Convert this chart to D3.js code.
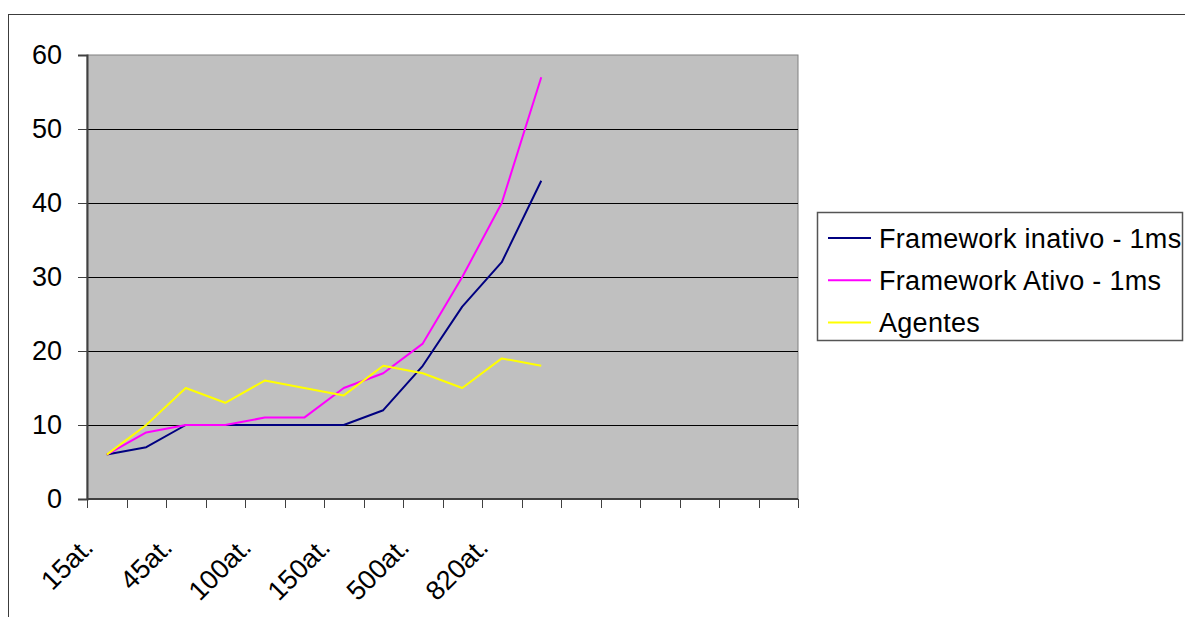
<!DOCTYPE html>
<html>
<head>
<meta charset="utf-8">
<script src="https://cdn.jsdelivr.net/npm/d3@7"></script>
<style>
  html, body { margin: 0; padding: 0; background: #fff; }
  svg { display: block; font-family: "Liberation Sans", Arial, sans-serif; }
</style>
</head>
<body>
<svg id="chart" width="1185" height="617"></svg>
<script>
// Category slots along the x axis (18 slots, data in the first 12)
const categoryCount = 18;
// Labels shown under every other slot
const tickLabels = ["15at.", "", "45at.", "", "100at.", "", "150at.", "", "500at.", "", "820at.", ""];

// Series values (ms)
const frameworkInativo = [6, 7, 10, 10, 10, 10, 10, 12, 18, 26, 32, 43];
const frameworkAtivo   = [6, 9, 10, 10, 11, 11, 15, 17, 21, 30, 40, 57];
const agentes          = [6, 10, 15, 13, 16, 15, 14, 18, 17, 15, 19, 18];

const seriesNames  = ["Framework inativo - 1ms", "Framework Ativo - 1ms", "Agentes"];
const seriesColors = ["#000080", "#FF00FF", "#FFFF00"];
const yTicks = [0, 10, 20, 30, 40, 50, 60];

const series = [frameworkInativo, frameworkAtivo, agentes];
const fontSize = 27;

const svg = d3.select("#chart");

// Chart frame
svg.append("rect")
  .attr("x", 8.5).attr("y", 14.5)
  .attr("width", 1300).attr("height", 700)
  .attr("fill", "#fff")
  .attr("stroke", "#3c3c3c").attr("stroke-width", 1);

const plot = { left: 87, top: 55, right: 798, bottom: 499 };

const x = d3.scaleBand()
  .domain(d3.range(categoryCount))
  .range([plot.left, plot.right])
  .paddingInner(0).paddingOuter(0);

const y = d3.scaleLinear()
  .domain([0, 60])
  .range([plot.bottom, plot.top]);

// Plot background
svg.append("rect")
  .attr("x", plot.left).attr("y", plot.top)
  .attr("width", plot.right - plot.left)
  .attr("height", plot.bottom - plot.top)
  .attr("fill", "#C0C0C0")
  .attr("stroke", "#808080").attr("stroke-width", 1);

// Horizontal gridlines
svg.append("g")
  .selectAll("line")
  .data(yTicks.filter(d => d > 0 && d < 60))
  .join("line")
  .attr("x1", plot.left).attr("x2", plot.right)
  .attr("y1", d => Math.round(y(d)) + 0.5)
  .attr("y2", d => Math.round(y(d)) + 0.5)
  .attr("stroke", "#000").attr("stroke-width", 1);

// Y axis
const yAxis = svg.append("g")
  .attr("transform", `translate(${plot.left},0)`)
  .call(d3.axisLeft(y).tickValues(yTicks).tickSize(9).tickPadding(16));
yAxis.select(".domain").attr("stroke", "#404040").attr("stroke-width", 2);
yAxis.selectAll(".tick line").attr("stroke", "#404040");
yAxis.selectAll(".tick text")
  .attr("font-size", fontSize)
  .attr("fill", "#000")
  .attr("font-family", "'Liberation Sans', Arial, sans-serif");

// X axis: tick marks at slot boundaries
const xAxisG = svg.append("g");
xAxisG.append("line")
  .attr("x1", plot.left).attr("x2", plot.right)
  .attr("y1", plot.bottom).attr("y2", plot.bottom)
  .attr("stroke", "#404040").attr("stroke-width", 2);
xAxisG.selectAll("line.tick")
  .data(d3.range(categoryCount + 1))
  .join("line")
  .attr("class", "tick")
  .attr("x1", i => Math.round(plot.left + i * x.step()) + 0.5)
  .attr("x2", i => Math.round(plot.left + i * x.step()) + 0.5)
  .attr("y1", plot.bottom)
  .attr("y2", plot.bottom + 9)
  .attr("stroke", "#404040");

// Rotated category labels
xAxisG.selectAll("text")
  .data(tickLabels.map((t, i) => ({ t, i })).filter(d => d.t))
  .join("text")
  .attr("transform", d => `translate(${x(d.i) + x.bandwidth() / 2 - 12},549) rotate(-45)`)
  .attr("text-anchor", "end")
  .attr("font-size", fontSize)
  .attr("fill", "#000")
  .text(d => d.t);

// Series lines
const line = d3.line()
  .x((d, i) => x(i) + x.bandwidth() / 2)
  .y(d => y(d));

svg.append("g")
  .selectAll("path")
  .data(series)
  .join("path")
  .attr("d", d => line(d))
  .attr("fill", "none")
  .attr("stroke", (d, i) => seriesColors[i])
  .attr("stroke-width", 2)
  .attr("stroke-linejoin", "round");

// Legend
const legend = svg.append("g");
legend.append("rect")
  .attr("x", 817.5).attr("y", 212.5)
  .attr("width", 365).attr("height", 128)
  .attr("fill", "#fff")
  .attr("stroke", "#555").attr("stroke-width", 1.5);

const rows = legend.selectAll("g.row")
  .data(seriesNames)
  .join("g")
  .attr("class", "row")
  .attr("transform", (d, i) => `translate(0,${238 + i * 42.3})`);
rows.append("line")
  .attr("x1", 828).attr("x2", 871)
  .attr("y1", 0).attr("y2", 0)
  .attr("stroke", (d, i) => seriesColors[i])
  .attr("stroke-width", 2);
rows.append("text")
  .attr("x", 879).attr("y", 0)
  .attr("dy", "0.36em")
  .attr("font-size", fontSize)
  .attr("letter-spacing", 0.3)
  .attr("fill", "#000")
  .text(d => d);
</script>
</body>
</html>
